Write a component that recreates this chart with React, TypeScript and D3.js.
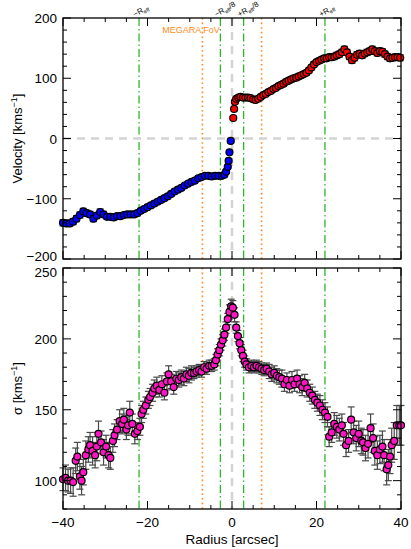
import React from "react";
import * as d3 from "d3";

// ---------- data ----------
// velocity, approaching side: [radius, velocity, error]
const velBlue: [number, number, number][] = [
  [-40.0, -140, 5], [-39.2, -141, 5], [-38.4, -141, 5], [-37.6, -138, 5], [-36.8, -133, 5],
  [-36.0, -127, 5], [-35.2, -121, 5], [-34.4, -124, 5], [-33.6, -126, 5], [-32.8, -133, 5],
  [-32.0, -128, 5], [-31.2, -122, 5], [-30.4, -126, 5], [-29.6, -130, 4], [-28.8, -130, 4],
  [-28.0, -131, 4], [-27.2, -129, 4], [-26.4, -129, 4], [-25.6, -127, 4], [-24.8, -126, 4],
  [-24.0, -126, 4], [-23.2, -126, 4], [-22.4, -124, 4], [-21.6, -120, 4], [-20.8, -117, 4],
  [-20.0, -114, 4], [-19.2, -111, 4], [-18.4, -108, 4], [-17.6, -105, 4], [-16.8, -102, 4],
  [-16.0, -99, 4], [-15.2, -96, 4], [-14.4, -92, 4], [-13.6, -88, 4], [-12.8, -85, 4],
  [-12.0, -82, 4], [-11.2, -78, 3], [-10.4, -75, 3], [-9.6, -72, 3], [-8.8, -70, 3],
  [-8.0, -66, 3], [-7.2, -64, 3], [-6.4, -62, 3], [-5.6, -62, 3], [-4.8, -63, 3],
  [-4.0, -62, 3], [-3.2, -62, 3], [-2.4, -62, 3], [-1.8, -60, 3], [-1.4, -55, 3],
  [-1.0, -47, 3], [-0.8, -37, 3], [-0.6, -23, 3], [-0.3, -4, 3],
];
// velocity, receding side
const velRed: [number, number, number][] = [
  [0.3, 34, 3], [0.5, 49, 3], [0.7, 61, 3], [1.0, 66, 3], [1.5, 68, 3], [2.0, 69, 3],
  [2.6, 68, 3], [3.2, 68, 3], [3.8, 68, 3], [4.4, 67, 3], [5.0, 65, 3], [5.6, 64, 3],
  [6.2, 66, 3], [6.8, 69, 3], [7.4, 72, 3], [8.0, 74, 3], [8.6, 77, 3], [9.2, 79, 3],
  [9.8, 82, 3], [10.4, 84, 3], [11.0, 87, 4], [11.6, 89, 4], [12.2, 91, 4], [12.8, 94, 4],
  [13.4, 96, 4], [14.0, 98, 4], [14.6, 100, 4], [15.2, 101, 4], [15.8, 103, 4], [16.4, 105, 4],
  [17.0, 107, 4], [17.6, 109, 4], [18.2, 113, 4], [18.8, 118, 4], [19.4, 123, 4], [20.0, 127, 4],
  [20.6, 129, 4], [21.2, 131, 4], [21.8, 133, 4], [22.4, 133, 4], [23.0, 135, 4], [23.6, 135, 4],
  [24.2, 136, 5], [24.8, 138, 5], [25.4, 140, 5], [26.0, 143, 5], [26.6, 148, 5], [27.2, 143, 5],
  [27.8, 136, 5], [28.4, 130, 5], [29.0, 134, 5], [29.6, 139, 5], [30.2, 141, 5], [30.8, 138, 5],
  [31.4, 141, 5], [32.0, 143, 5], [32.6, 145, 5], [33.2, 148, 5], [33.8, 145, 5], [34.4, 142, 5],
  [35.0, 145, 5], [35.6, 144, 5], [36.2, 140, 5], [36.8, 136, 5], [37.4, 133, 5], [38.0, 134, 5],
  [38.6, 135, 5], [39.2, 135, 5], [39.8, 134, 5],
];
// velocity dispersion: [radius, sigma, error]
const sigmaData: [number, number, number][] = [
  [-40.0, 101, 8], [-39.4, 102, 9], [-38.8, 100, 8], [-38.2, 100, 9], [-37.6, 99, 10], [-37.0, 114, 9],
  [-36.6, 117, 10], [-36.0, 103, 9], [-35.6, 100, 10], [-35.2, 106, 9], [-34.6, 118, 10], [-34.0, 122, 9],
  [-33.6, 125, 9], [-33.0, 121, 10], [-32.4, 118, 9], [-32.0, 124, 10], [-31.6, 133, 9], [-31.0, 127, 8],
  [-30.4, 120, 9], [-29.8, 124, 8], [-29.2, 118, 9], [-28.8, 116, 8], [-28.2, 128, 8], [-27.8, 132, 8],
  [-27.2, 136, 7], [-26.6, 142, 8], [-26.0, 140, 7], [-25.6, 143, 8], [-25.0, 136, 7], [-24.6, 139, 7],
  [-24.2, 148, 8], [-23.6, 140, 7], [-23.0, 133, 7], [-22.4, 135, 6], [-21.8, 138, 6], [-21.4, 147, 6],
  [-21.0, 150, 6], [-20.4, 153, 6], [-19.8, 157, 6], [-19.4, 159, 6], [-18.8, 162, 6], [-18.4, 165, 6],
  [-17.8, 167, 6], [-17.2, 164, 5], [-16.6, 168, 6], [-16.0, 162, 5], [-15.4, 170, 6], [-15.0, 175, 6],
  [-14.4, 170, 5], [-13.8, 166, 5], [-13.2, 172, 5], [-12.6, 171, 5], [-12.0, 173, 5], [-11.4, 172, 5],
  [-10.8, 175, 5], [-10.2, 174, 5], [-9.6, 176, 5], [-9.0, 176, 4], [-8.4, 177, 4], [-7.8, 178, 4],
  [-7.2, 177, 4], [-6.6, 180, 4], [-6.0, 179, 4], [-5.4, 181, 4], [-4.8, 181, 4], [-4.2, 182, 4],
  [-3.8, 185, 4], [-3.4, 189, 4], [-3.0, 192, 4], [-2.6, 196, 4], [-2.2, 199, 4], [-1.8, 203, 4],
  [-1.4, 208, 4], [-1.0, 214, 4], [-0.6, 219, 5], [-0.2, 223, 5],
  [0.2, 222, 5], [0.6, 217, 5], [1.0, 208, 4], [1.4, 202, 4], [1.8, 197, 4], [2.2, 192, 4],
  [2.6, 188, 4], [3.0, 184, 4], [3.4, 182, 4], [4.0, 180, 4], [4.6, 181, 4], [5.2, 180, 4],
  [5.8, 181, 4], [6.4, 180, 4], [7.0, 179, 4], [7.6, 178, 4], [8.2, 179, 4], [8.8, 177, 5],
  [9.4, 175, 5], [10.0, 176, 5], [10.6, 174, 5], [11.2, 173, 5], [11.8, 172, 6], [12.4, 168, 5],
  [13.0, 171, 5], [13.6, 167, 5], [14.2, 171, 6], [14.8, 168, 5], [15.4, 172, 6], [16.0, 168, 6],
  [16.6, 166, 6], [17.2, 169, 6], [17.8, 165, 6], [18.4, 162, 6], [19.0, 160, 6], [19.6, 157, 6],
  [20.2, 155, 6], [20.8, 153, 7], [21.4, 150, 7], [22.0, 148, 7], [22.6, 145, 7], [23.0, 131, 7],
  [23.6, 134, 7], [24.2, 140, 8], [24.8, 138, 8], [25.4, 136, 8], [26.0, 139, 8], [26.4, 133, 8],
  [27.0, 125, 8], [27.6, 128, 8], [28.2, 143, 9], [28.8, 134, 8], [29.4, 130, 9], [30.0, 133, 9],
  [30.6, 128, 9], [31.0, 127, 9], [31.6, 123, 9], [32.2, 126, 10], [32.8, 137, 10], [33.4, 130, 10],
  [33.8, 121, 10], [34.4, 118, 10], [35.0, 122, 10], [35.6, 124, 11], [36.0, 118, 11], [36.6, 108, 11],
  [37.0, 111, 11], [37.4, 117, 12], [37.8, 125, 12], [38.4, 128, 13], [39.0, 139, 14], [39.6, 139, 14],
  [40.0, 139, 14],
];

const xTicks = [-40, -20, 0, 20, 40];
const velTicks = [-200, -100, 0, 100, 200];
const sigTicks = [100, 150, 200, 250];

const rEff = 22;
const megaraHalf = 7;
const refLines = [
  { r: -rEff, label: "−R", sub: "eff", tail: "" },
  { r: -rEff / 8, label: "−R", sub: "eff", tail: "/8" },
  { r: rEff / 8, label: "+R", sub: "eff", tail: "/8" },
  { r: rEff, label: "+R", sub: "eff", tail: "" },
];
const fovLines = [-megaraHalf, megaraHalf];

// ---------- layout ----------
const W = 411, H = 549;
const X0 = 63, X1 = 401;
const TOP = { y0: 18, y1: 259 };
const BOT = { y0: 268, y1: 509 };

const FONT = "Liberation Sans, Arial, Helvetica, sans-serif";
const GREEN = "#2fb52f";
const ORANGE = "#ff8c1a";
const GRAYD = "#d4d4d4";
const ERR = "#484848";

const x = d3.scaleLinear().domain([-40, 40]).range([X0, X1]);
const yV = d3.scaleLinear().domain([-200, 200]).range([TOP.y1, TOP.y0]);
const yS = d3.scaleLinear().domain([80, 250]).range([BOT.y1, BOT.y0]);

function Frame({ y, y0, y1, majors, minorStep }: any) {
  const xMajor = d3.range(-40, 40.001, 20);
  const xMinor = d3.range(-40, 40.001, 5).filter((v) => !xMajor.includes(v));
  const dom = y.domain();
  const yMinor = d3.range(Math.ceil(dom[0] / minorStep) * minorStep, dom[1] + 0.001, minorStep).filter(
    (v: number) => !majors.includes(v)
  );
  const L = 8, l = 4;
  const els: any[] = [];
  xMajor.forEach((v, i) => {
    els.push(<line key={"xb" + i} x1={x(v)} x2={x(v)} y1={y1} y2={y1 - L} />);
    els.push(<line key={"xt" + i} x1={x(v)} x2={x(v)} y1={y0} y2={y0 + L} />);
  });
  xMinor.forEach((v, i) => {
    els.push(<line key={"xbm" + i} x1={x(v)} x2={x(v)} y1={y1} y2={y1 - l} />);
    els.push(<line key={"xtm" + i} x1={x(v)} x2={x(v)} y1={y0} y2={y0 + l} />);
  });
  majors.forEach((v: number, i: number) => {
    els.push(<line key={"yl" + i} x1={X0} x2={X0 + L} y1={y(v)} y2={y(v)} />);
    els.push(<line key={"yr" + i} x1={X1} x2={X1 - L} y1={y(v)} y2={y(v)} />);
  });
  yMinor.forEach((v: number, i: number) => {
    els.push(<line key={"ylm" + i} x1={X0} x2={X0 + l} y1={y(v)} y2={y(v)} />);
    els.push(<line key={"yrm" + i} x1={X1} x2={X1 - l} y1={y(v)} y2={y(v)} />);
  });
  return (
    <g stroke="#000" strokeWidth={1}>
      {els}
      <rect x={X0} y={y0} width={X1 - X0} height={y1 - y0} fill="none" strokeWidth={1.3} />
    </g>
  );
}

function RefLines({ y0, y1 }: any) {
  return (
    <g>
      <line x1={x(0)} x2={x(0)} y1={y0} y2={y1} stroke={GRAYD} strokeWidth={2.5} strokeDasharray="8,6" />
      {refLines.map((d, i) => (
        <line key={"g" + i} x1={x(d.r)} x2={x(d.r)} y1={y0} y2={y1} stroke={GREEN} strokeWidth={1.3}
          strokeDasharray="8,3,1.5,3" />
      ))}
      {fovLines.map((r, i) => (
        <line key={"o" + i} x1={x(r)} x2={x(r)} y1={y0} y2={y1} stroke={ORANGE} strokeWidth={1.6}
          strokeDasharray="1.6,3" />
      ))}
    </g>
  );
}

function Points({ data, y, color }: { data: [number, number, number][]; y: any; color: string }) {
  return (
    <g>
      <g stroke={ERR} strokeWidth={1.2}>
        {data.map((d, i) => (
          <g key={i}>
            <line x1={x(d[0])} x2={x(d[0])} y1={y(d[1] - d[2])} y2={y(d[1] + d[2])} />
            <line x1={x(d[0]) - 3.5} x2={x(d[0]) + 3.5} y1={y(d[1] - d[2])} y2={y(d[1] - d[2])} />
            <line x1={x(d[0]) - 3.5} x2={x(d[0]) + 3.5} y1={y(d[1] + d[2])} y2={y(d[1] + d[2])} />
          </g>
        ))}
      </g>
      <g fill={color} stroke="#000" strokeWidth={1.2}>
        {data.map((d, i) => (
          <circle key={i} cx={x(d[0])} cy={y(d[1])} r={3.5} />
        ))}
      </g>
    </g>
  );
}

export default function App() {
  return (
    <div style={{ position: "absolute", left: 0, top: 0 }}>
      <svg width={W} height={H} style={{ display: "block", background: "#fff" }} fontFamily={FONT}>
        <rect width={W} height={H} fill="#fff" />
        {/* top panel */}
        <RefLines y0={TOP.y0} y1={TOP.y1} />
        <line x1={X0} x2={X1} y1={yV(0)} y2={yV(0)} stroke={GRAYD} strokeWidth={2.5} strokeDasharray="8,6" />
        <Points data={velBlue} y={yV} color="#0000ff" />
        <Points data={velRed} y={yV} color="#ff0000" />
        <Frame y={yV} y0={TOP.y0} y1={TOP.y1} majors={velTicks} minorStep={20} />
        {velTicks.map((v) => (
          <text key={v} x={57} y={yV(v) + (v === -200 ? 2 : 5)} textAnchor="end" fontSize={13.5}>
            {v < 0 ? "−" + Math.abs(v) : v}
          </text>
        ))}
        <text transform={`translate(22,${(TOP.y0 + TOP.y1) / 2}) rotate(-90)`} textAnchor="middle" fontSize={13}>
          Velocity [kms<tspan dy={-5} fontSize={9}>−1</tspan><tspan dy={5}>]</tspan>
        </text>
        {refLines.map((d, i) => (
          <text key={"rl" + i} transform={`translate(${x(d.r) - 4},${TOP.y0 - 1}) rotate(-30)`} fontSize={7.8}>
            {d.label}
            <tspan dy={2} fontSize={5.5}>{d.sub}</tspan>
            <tspan dy={-2}>{d.tail}</tspan>
          </text>
        ))}
        <text x={191} y={33} textAnchor="middle" fontSize={9} fill={ORANGE}>MEGARA FoV</text>

        {/* bottom panel */}
        <RefLines y0={BOT.y0} y1={BOT.y1} />
        <Points data={sigmaData} y={yS} color="#ff14c4" />
        <Frame y={yS} y0={BOT.y0} y1={BOT.y1} majors={sigTicks} minorStep={10} />
        {sigTicks.map((v) => (
          <text key={v} x={57} y={yS(v) + (v === 250 ? 9 : 5)} textAnchor="end" fontSize={13.5}>
            {v}
          </text>
        ))}
        <text transform={`translate(22,${(BOT.y0 + BOT.y1) / 2}) rotate(-90)`} textAnchor="middle" fontSize={13}>
          σ [kms<tspan dy={-5} fontSize={9}>−1</tspan><tspan dy={5}>]</tspan>
        </text>
        {xTicks.map((v) => (
          <text key={v} x={x(v)} y={527} textAnchor="middle" fontSize={13.5}>
            {v < 0 ? "−" + Math.abs(v) : v}
          </text>
        ))}
        <text x={x(0)} y={544} textAnchor="middle" fontSize={13.5}>Radius [arcsec]</text>
      </svg>
    </div>
  );
}
